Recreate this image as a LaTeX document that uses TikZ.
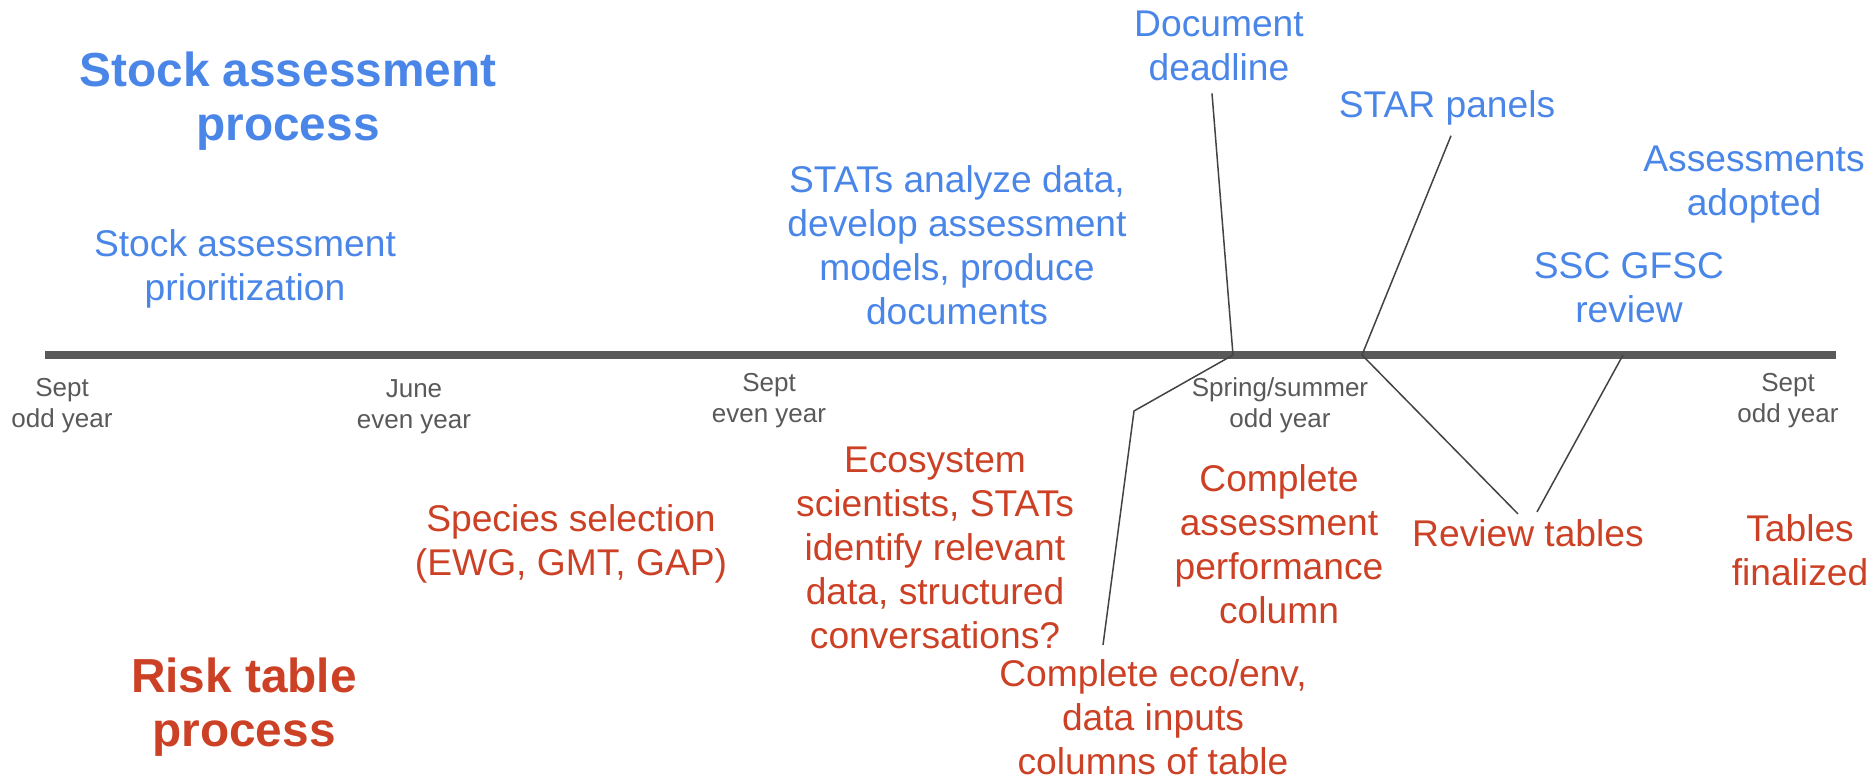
\documentclass[tikz,border=0pt]{standalone}
\usepackage{fontspec}
\setmainfont{Liberation Sans}
\usetikzlibrary{calc}
\definecolor{slideblue}{HTML}{4A86E8}
\definecolor{slidered}{HTML}{CC4125}
\definecolor{bargray}{HTML}{595959}
\definecolor{linegray}{HTML}{434343}
\tikzset{
    heading/.style={          % Big bold titles on the left
        align=center, inner sep=0pt,
        font=\fontsize{23.9}{27}\selectfont\bfseries},
    task/.style={             % Steps above and below the line
        align=center, inner sep=0pt,
        font=\fontsize{18.6}{22}\selectfont},
    stock/.style={task, text=slideblue},
    risk/.style={task, text=slidered},
    date/.style={             % Dates under the line
        align=center, inner sep=0pt, text=bargray,
        font=\fontsize{13}{15.5}\selectfont},
    timeline/.style={draw=bargray, line width=3.6pt},
    leader/.style={draw=linegray, line width=0.75pt}}

\begin{document}
\begin{tikzpicture}[x=0.5pt, y=-0.5pt]
    \useasboundingbox (0,0) rectangle (1875,780);

    % the line
    \coordinate (tstart) at (45,355);
    \coordinate (tend) at (1836,355);
    \coordinate (tdead) at (1233,355);
    \coordinate (tstar) at (1362,355);
    \coordinate (tssc) at (1623,355);
    \draw[timeline] (tstart) -- (tend);

    % dates
    \node[date] (sept1) at (62,405.5) {Sept\\odd year};
    \node[date] (june) at (414,407) {June\\even year};
    \node[date] (sept2) at (769,400.5) {Sept\\even year};
    \node[date] (spring) at (1280,405.5) {Spring/summer\\odd year};
    \node[date] (sept3) at (1788,400.5) {Sept\\odd year};

    % stock assessment process
    \node[heading, text=slideblue] (stocktitle) at (288,101) {Stock assessment\\process};
    \node[stock] (prio) at (245,268.5) {Stock assessment\\prioritization};
    \node[stock] (stats) at (957,245) {STATs analyze data,\\develop assessment\\models, produce\\documents};
    \node[stock] (deadline) at (1219,46) {Document\\deadline};
    \node[stock] (star) at (1447,108) {STAR panels};
    \node[stock] (adopted) at (1754,185) {Assessments\\adopted};
    \node[stock] (ssc) at (1629,288) {SSC GFSC\\review};

    % risk table process
    \node[heading, text=slidered] (risktitle) at (244,707) {Risk table\\process};
    \node[risk] (species) at (571,544) {Species selection\\(EWG, GMT, GAP)};
    \node[risk] (eco) at (935,547.5) {Ecosystem\\scientists, STATs\\identify relevant\\data, structured\\conversations?};
    \node[risk] (perf) at (1279,544) {Complete\\assessment\\performance\\column};
    \node[risk] (review) at (1528,533) {Review tables};
    \node[risk] (final) at (1800,550) {Tables\\finalized};
    \node[risk] (ecoenv) at (1153,717) {Complete eco/env,\\data inputs\\columns of table};

    % leaders
    \coordinate (ebend) at (1134,411);
    \draw[leader] ($(deadline.south)+(-7,12)$) -- (tdead);
    \draw[leader] ($(star.south)+(4,10)$) -- (tstar);
    \draw[leader] ($(ecoenv.north)+(-50,-14)$) -- (ebend) -- (tdead);
    \draw[leader] (tstar) -- ($(review.north)+(-10,-5)$);
    \draw[leader] ($(review.north)+(9,-7)$) -- (tssc);
\end{tikzpicture}
\end{document}
